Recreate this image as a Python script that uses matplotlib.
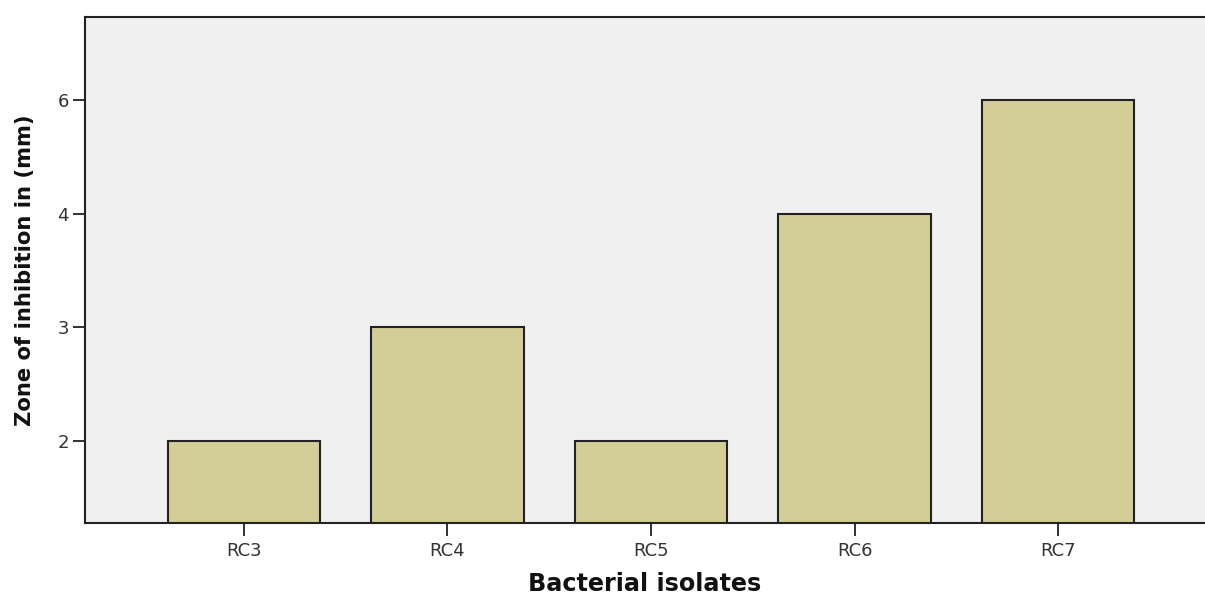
import numpy as np
import matplotlib
matplotlib.use("Agg")
import matplotlib.pyplot as plt

categories = ["RC3", "RC4", "RC5", "RC6", "RC7"]
values = [2, 3, 2, 4, 6]
y_ticks = [2, 3, 4, 6]

# ordinal y axis: the tick values are equally spaced
_knots_v = np.array(y_ticks, dtype=float)
_knots_p = np.arange(len(y_ticks), dtype=float)


def _interp_ext(x, xp, fp):
    x = np.asarray(x, dtype=float)
    y = np.interp(x, xp, fp)
    s0 = (fp[1] - fp[0]) / (xp[1] - xp[0])
    s1 = (fp[-1] - fp[-2]) / (xp[-1] - xp[-2])
    y = np.where(x < xp[0], fp[0] + (x - xp[0]) * s0, y)
    y = np.where(x > xp[-1], fp[-1] + (x - xp[-1]) * s1, y)
    return y


def fwd(v):
    return _interp_ext(v, _knots_v, _knots_p)


def inv(p):
    return _interp_ext(p, _knots_p, _knots_v)


fig = plt.figure(figsize=(12.05, 5.97), dpi=100)
ax = fig.add_axes([85 / 1205, 1 - 523 / 597, 1 - 85 / 1205, (523 - 17) / 597])
ax.set_facecolor("#F0F0F0")
ax.set_yscale("function", functions=(fwd, inv))

ylow = float(inv(-0.72))
yhigh = float(inv(3.73))
ax.set_ylim(ylow, yhigh)
ax.set_xlim(-0.781, 4.722)

x = np.arange(len(categories))
heights = [v - ylow for v in values]
ax.bar(x, heights, bottom=ylow, width=0.75, color="#D3CE97",
       edgecolor="#222222", linewidth=1.5, zorder=3)

ax.set_xticks(x)
ax.set_xticklabels(categories)
ax.set_yticks(y_ticks)
ax.set_yticklabels([str(t) for t in y_ticks])
ax.yaxis.set_minor_locator(matplotlib.ticker.NullLocator())

for s in ["left", "bottom", "top"]:
    ax.spines[s].set_color("#222222")
    ax.spines[s].set_linewidth(1.5)
ax.spines["right"].set_visible(False)

ax.tick_params(axis="both", direction="out", length=9, width=1.3,
               color="#222222", labelcolor="#333333", labelsize=13)
ax.tick_params(axis="x", pad=5)
ax.tick_params(axis="y", pad=2.5)

ax.set_xlabel("Bacterial isolates", fontsize=17.2, fontweight="bold",
              color="#111111", labelpad=8)
ax.set_ylabel("Zone of inhibition in (mm)", fontsize=15.2, fontweight="bold",
              color="#111111", labelpad=16)

fig.savefig("out.png", dpi=100)
